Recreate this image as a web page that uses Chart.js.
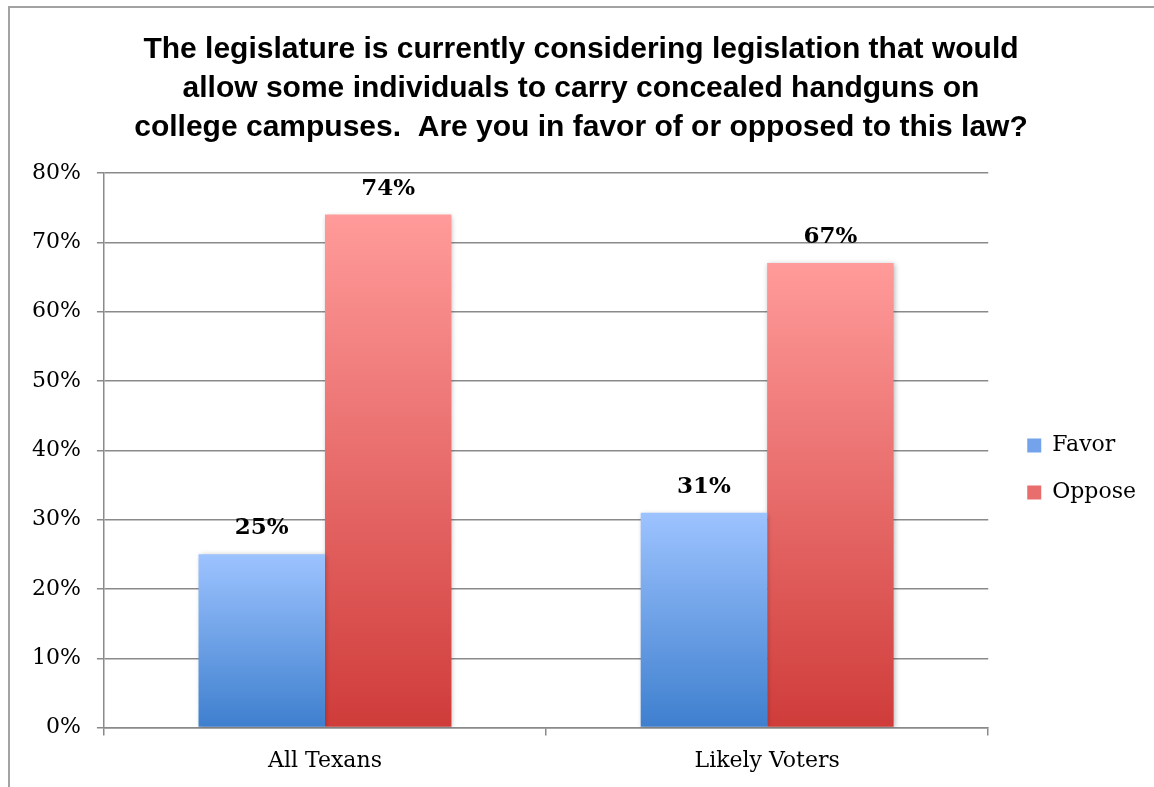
<!DOCTYPE html>
<html>
<head>
<meta charset="utf-8">
<title>Concealed handguns on college campuses</title>
<script src="https://cdn.jsdelivr.net/npm/chart.js@4.4.1/dist/chart.umd.min.js"></script>
<style>
  html, body { margin: 0; padding: 0; background: #ffffff; }
  #wrap { position: relative; width: 1154px; height: 787px; }
</style>
</head>
<body>
<div id="wrap"><canvas id="chart" width="1154" height="787"></canvas></div>
<script>
// Survey data
const categories = ['All Texans', 'Likely Voters'];
const favor = [25, 31];
const oppose = [74, 67];
const seriesNames = ['Favor', 'Oppose'];
const titleLines = [
  'The legislature is currently considering legislation that would',
  'allow some individuals to carry concealed handguns on',
  'college campuses.  Are you in favor of or opposed to this law?'
];
const yTicks = [0, 10, 20, 30, 40, 50, 60, 70, 80];

const SERIF = '"DejaVu Serif", serif';
const GRID = '#8a8a8a';

// Vertical gradient spanning each bar from its top to the zero line
function barGradient(top, bottom) {
  return (ctx) => {
    const chart = ctx.chart;
    if (!chart.chartArea || ctx.type !== 'data') return bottom;
    const y = chart.scales.y;
    const y0 = y.getPixelForValue(ctx.raw);
    const y1 = y.getPixelForValue(0);
    const g = chart.ctx.createLinearGradient(0, y0, 0, y1);
    g.addColorStop(0, top);
    g.addColorStop(1, bottom);
    return g;
  };
}

// Outer frame (top and left edges)
const framePlugin = {
  id: 'frame',
  beforeDraw(chart) {
    const c = chart.ctx;
    c.save();
    c.strokeStyle = '#a3a3a3';
    c.lineWidth = 2;
    c.beginPath();
    c.moveTo(9, chart.height);
    c.lineTo(9, 7);
    c.lineTo(chart.width, 7);
    c.stroke();
    c.restore();
  }
};

// Soft shadow under the bars
const shadowPlugin = {
  id: 'barShadow',
  beforeDatasetsDraw(chart) {
    const c = chart.ctx;
    c.save();
    c.shadowColor = 'rgba(0,0,0,0.28)';
    c.shadowBlur = 5;
    c.shadowOffsetX = 1;
    c.shadowOffsetY = 1;
  },
  afterDatasetsDraw(chart) {
    chart.ctx.restore();
  }
};

// Percentage labels above each bar
const valueLabels = {
  id: 'valueLabels',
  afterDatasetsDraw(chart) {
    const c = chart.ctx;
    c.save();
    c.font = 'bold 23px ' + SERIF;
    c.fillStyle = '#000000';
    c.textAlign = 'center';
    c.textBaseline = 'middle';
    chart.data.datasets.forEach((ds, i) => {
      const meta = chart.getDatasetMeta(i);
      meta.data.forEach((bar, j) => {
        c.fillText(ds.data[j] + '%', bar.x, bar.y - 26);
      });
    });
    c.restore();
  }
};

new Chart(document.getElementById('chart'), {
  type: 'bar',
  data: {
    labels: categories,
    datasets: [
      {
        label: seriesNames[0],
        data: favor,
        backgroundColor: barGradient('#9dc3ff', '#3e7fce'),
        legendColor: '#74a3ec',
        borderWidth: 0
      },
      {
        label: seriesNames[1],
        data: oppose,
        backgroundColor: barGradient('#ff9b9a', '#cf3c3a'),
        legendColor: '#e86e6d',
        borderWidth: 0
      }
    ]
  },
  options: {
    responsive: false,
    animation: false,
    devicePixelRatio: 1,
    datasets: { bar: { barPercentage: 1, categoryPercentage: 0.572 } },
    layout: { padding: { left: 16, right: 8, top: 0, bottom: 1 } },
    plugins: {
      tooltip: { enabled: false },
      title: {
        display: true,
        text: titleLines,
        color: '#000000',
        font: { family: '"Liberation Sans", Arial, sans-serif', size: 30, weight: 'bold', lineHeight: 1.3 },
        padding: { top: 30, bottom: 26 }
      },
      legend: {
        position: 'right',
        align: 'center',
        title: { display: true, text: ' ', font: { size: 10 }, padding: 70 },
        labels: {
          boxWidth: 14,
          boxHeight: 14,
          padding: 25,
          color: '#000000',
          font: { family: SERIF, size: 22 },
          generateLabels(chart) {
            return chart.data.datasets.map((ds, i) => ({
              text: ds.label,
              fillStyle: ds.legendColor,
              strokeStyle: ds.legendColor,
              fontColor: '#000000',
              lineWidth: 0,
              hidden: false,
              datasetIndex: i
            }));
          }
        }
      }
    },
    scales: {
      x: {
        grid: {
          display: true,
          drawOnChartArea: false,
          drawTicks: true,
          tickLength: 8,
          color: GRID,
          lineWidth: 1.5
        },
        border: { display: true, color: GRID, width: 1.5 },
        ticks: { color: '#000000', font: { family: SERIF, size: 22 }, padding: 12 }
      },
      y: {
        min: 0,
        max: 80,
        afterBuildTicks(scale) { scale.ticks = yTicks.map(v => ({ value: v })); },
        grid: { color: GRID, lineWidth: 1.5, tickLength: 7 },
        border: { display: true, color: GRID, width: 1.5 },
        ticks: {
          color: '#000000',
          font: { family: SERIF, size: 22 },
          padding: 16,
          callback: (v) => v + '%'
        }
      },
      gap: {
        type: 'linear',
        position: 'right',
        display: true,
        grid: { display: false },
        border: { display: false },
        ticks: { display: false },
        afterFit(scale) { scale.width = 14; }
      }
    }
  },
  plugins: [framePlugin, shadowPlugin, valueLabels]
});
</script>
</body>
</html>
